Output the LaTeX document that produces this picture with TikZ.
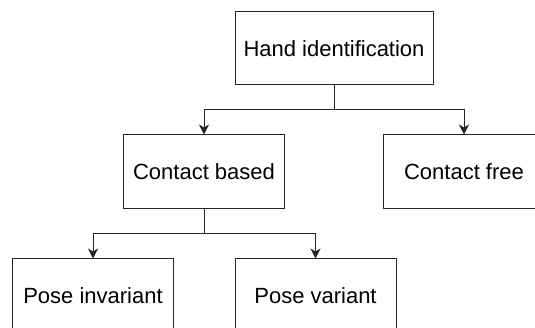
\documentclass[tikz,border=0pt]{standalone}
\usepackage{fontspec}
\setmainfont{Liberation Sans}
\usetikzlibrary{arrows.meta}
\begin{document}
\begin{tikzpicture}[x=1pt,y=-1pt,
  box/.style={draw=black!85, line width=1pt, fill=white, inner sep=0pt,
    minimum height=74pt, font=\fontsize{22}{26}\selectfont},
  arr/.style={draw=black!85, line width=1pt, -{Stealth[length=10pt,width=10pt,inset=3pt]}},
  conn/.style={draw=black!85, line width=1pt}]
\useasboundingbox (0,0) rectangle (535,328);
\clip (0,0) rectangle (535,328);
\node[box, minimum width=198pt, minimum height=73pt] (hand) at (334,48.5) {Hand identification};
\node[box, minimum width=161pt] (cb) at (204,172) {Contact based};
\node[box, minimum width=161pt] (cf) at (464,172) {Contact free};
\node[box, minimum width=161pt] (pi) at (93,296) {Pose invariant};
\node[box, minimum width=161pt] (pv) at (315.5,296) {Pose variant};
\coordinate (j1) at (334,110);
\coordinate (j2) at (204,233.5);
\draw[conn] (hand.south) -- (j1);
\draw[arr] (j1) -| (cb.north);
\draw[arr] (j1) -| (cf.north);
\draw[conn] (cb.south) -- (j2);
\draw[arr] (j2) -| (pi.north);
\draw[arr] (j2) -| (pv.north);
\end{tikzpicture}
\end{document}
